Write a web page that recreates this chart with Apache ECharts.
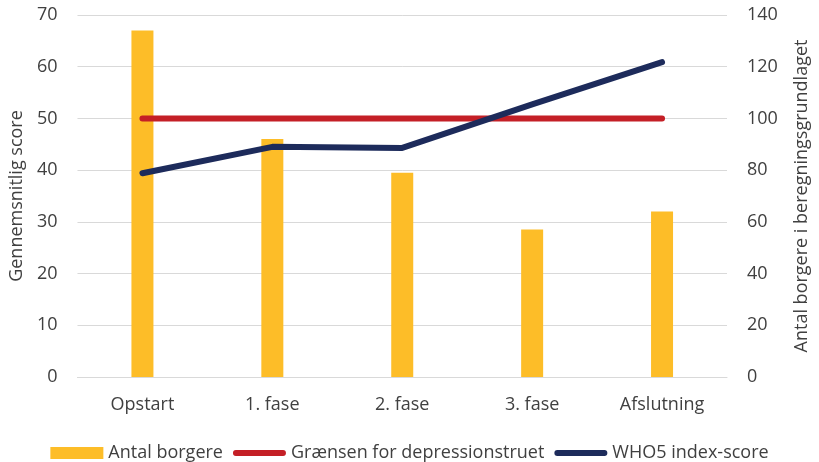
<!DOCTYPE html>
<html>
<head>
<meta charset="utf-8">
<script src="https://cdn.jsdelivr.net/npm/echarts@6/dist/echarts.min.js"></script>
<style>
html,body{margin:0;padding:0;background:#fff;}
#chart{width:819px;height:462px;}
</style>
</head>
<body>
<div id="chart"></div>
<script>
const categories = ['Opstart', '1. fase', '2. fase', '3. fase', 'Afslutning'];
const antalBorgere = [134, 92, 79, 57, 64];
const graensen = [50, 50, 50, 50, 50];
const who5 = [39.4, 44.5, 44.3, 52.7, 60.9];
const leftTicks = [0, 10, 20, 30, 40, 50, 60, 70];
const rightTicks = [0, 20, 40, 60, 80, 100, 120, 140];

const FONT = 'Open Sans';
const FS = 18;
const TXT = '#404040';
const GRID = '#d9d9d9';
const LINE_ICON = 'path://M3,0 L51,0 A3,3 0 0 1 51,6 L3,6 A3,3 0 0 1 3,0 Z';

const chart = echarts.init(document.getElementById('chart'), null, {renderer: 'canvas'});
chart.setOption({
  animation: false,
  textStyle: {fontFamily: FONT, color: TXT},
  grid: {left: 72, right: 86, top: 15, bottom: 85, containLabel: false},
  legend: {
    top: 439,
    left: 'center',
    itemWidth: 53,
    itemHeight: 12,
    itemGap: 10,
    symbolKeepAspect: true,
    textStyle: {fontFamily: FONT, fontSize: FS, color: TXT},
    data: [
      {name: 'Antal borgere', icon: 'rect'},
      {name: 'Grænsen for depressionstruet', icon: LINE_ICON, itemStyle: {color: '#C41F26'}},
      {name: 'WHO5 index-score', icon: LINE_ICON, itemStyle: {color: '#1D2B5B'}}
    ]
  },
  xAxis: {
    type: 'category',
    data: categories,
    axisTick: {show: false},
    axisLine: {show: true, lineStyle: {color: GRID, width: 1}},
    axisLabel: {fontFamily: FONT, fontSize: FS, color: TXT, margin: 19}
  },
  yAxis: [
    {
      type: 'value',
      min: leftTicks[0],
      max: leftTicks[leftTicks.length - 1],
      interval: leftTicks[1] - leftTicks[0],
      name: 'Gennemsnitlig score',
      nameLocation: 'middle',
      nameGap: 47,
      nameTextStyle: {fontFamily: FONT, fontSize: FS, color: TXT},
      axisLine: {show: false},
      axisTick: {show: false},
      axisLabel: {fontFamily: FONT, fontSize: FS, color: TXT, margin: 20},
      splitLine: {show: true, lineStyle: {color: GRID, width: 1}}
    },
    {
      type: 'value',
      min: rightTicks[0],
      max: rightTicks[rightTicks.length - 1],
      interval: rightTicks[1] - rightTicks[0],
      position: 'right',
      name: 'Antal borgere i beregningsgrundlaget',
      nameLocation: 'middle',
      nameGap: 66,
      nameRotate: 90,
      nameTextStyle: {fontFamily: FONT, fontSize: FS, color: TXT},
      axisLine: {show: false},
      axisTick: {show: false},
      axisLabel: {fontFamily: FONT, fontSize: FS, color: TXT, margin: 20},
      splitLine: {show: false}
    }
  ],
  series: [
    {
      name: 'Antal borgere',
      type: 'bar',
      yAxisIndex: 1,
      data: antalBorgere,
      barWidth: 22,
      itemStyle: {color: '#FDBD28'},
      z: 1
    },
    {
      name: 'Grænsen for depressionstruet',
      type: 'line',
      yAxisIndex: 0,
      data: graensen,
      symbol: 'none',
      lineStyle: {color: '#C41F26', width: 6, cap: 'round'},
      itemStyle: {color: '#C41F26'},
      z: 3
    },
    {
      name: 'WHO5 index-score',
      type: 'line',
      yAxisIndex: 0,
      data: who5,
      symbol: 'none',
      lineStyle: {color: '#1D2B5B', width: 6, cap: 'round', join: 'round'},
      itemStyle: {color: '#1D2B5B'},
      z: 4
    }
  ]
});
</script>
</body>
</html>
